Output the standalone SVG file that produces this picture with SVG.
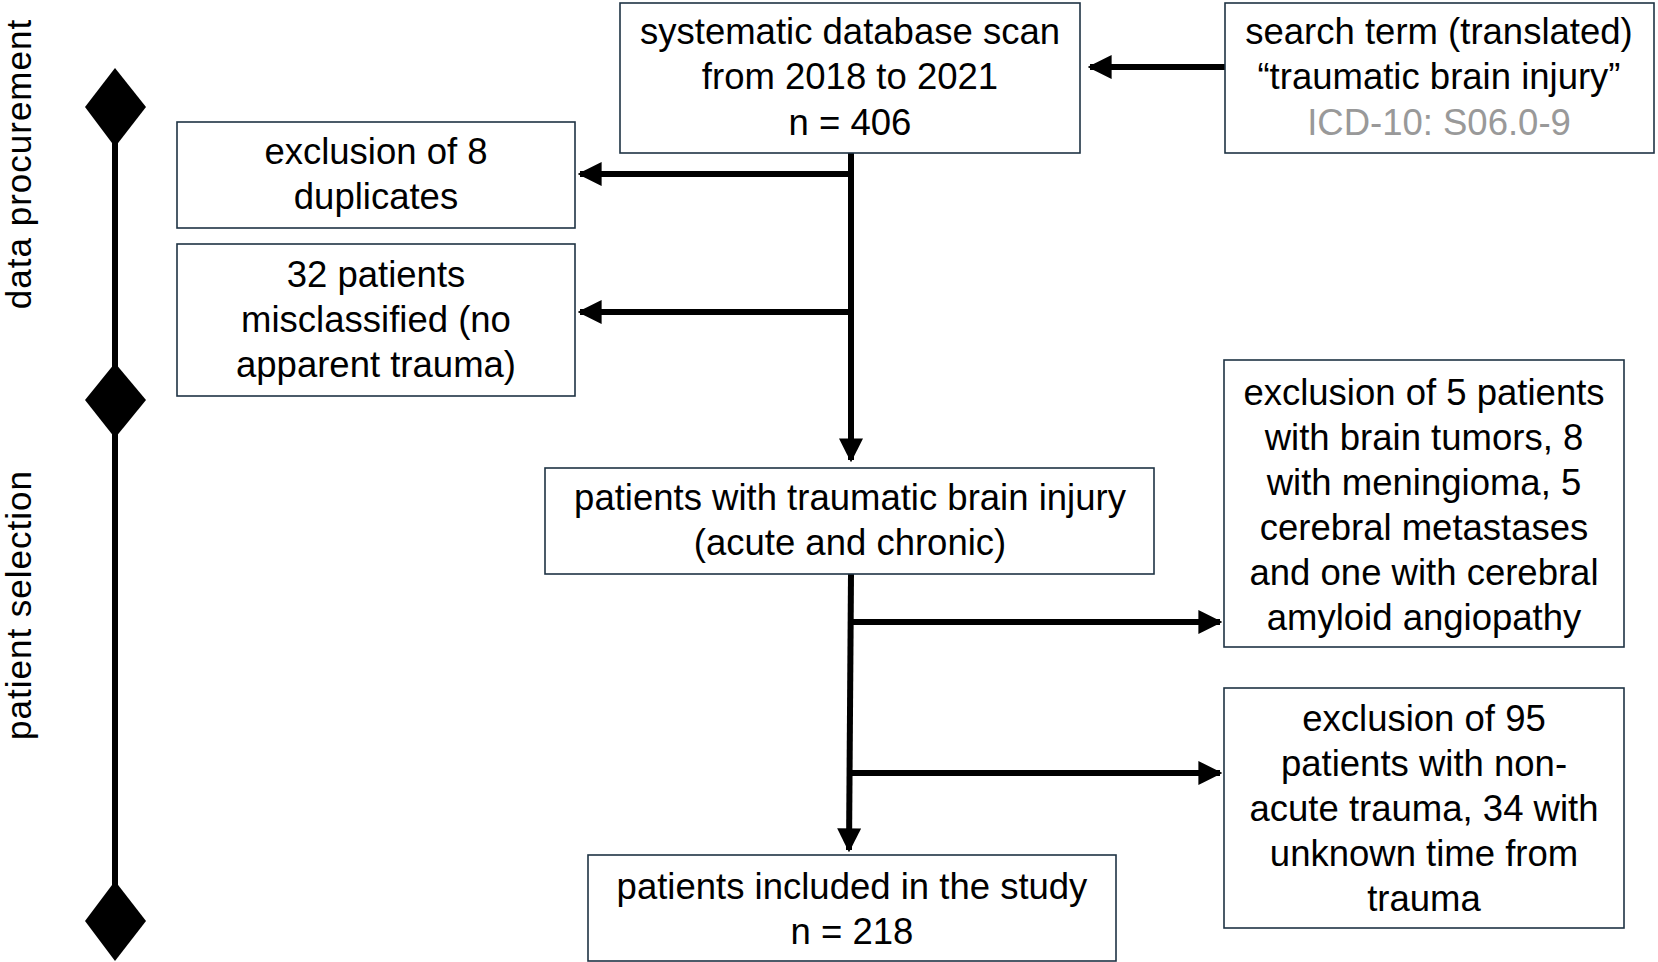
<svg xmlns="http://www.w3.org/2000/svg" width="1658" height="962" viewBox="0 0 1658 962">
<style>
.box{fill:#fff;stroke:#1f3344;stroke-width:1.6}
text{font-family:"Liberation Sans",Arial,sans-serif;font-size:36.5px;fill:#000;text-anchor:middle}
.side{font-size:35px;letter-spacing:1px}
.c{stroke:#000;stroke-width:6;fill:none}
</style>
<defs>
<marker id="ah" viewBox="0 0 10 10" refX="9" refY="5" markerWidth="4" markerHeight="4" orient="auto" markerUnits="strokeWidth"><path d="M0,0 L10,5 L0,10 z" fill="#000"/></marker>
</defs>
<g id="timeline">
<line x1="115" y1="100" x2="115" y2="920" stroke="#000" stroke-width="6"/>
<polygon points="115,68 146,107 115,147 85,107" fill="#000"/>
<polygon points="115,363 146,400 115,438 85,400" fill="#000"/>
<polygon points="115,881 146,921 115,961 85,921" fill="#000"/>
<text class="side" transform="translate(31,164) rotate(-90)">data procurement</text>
<text class="side" transform="translate(31,605) rotate(-90)">patient selection</text>
</g>
<g id="connectors">
<line class="c" x1="1225" y1="67" x2="1090" y2="67" marker-end="url(#ah)"/>
<line class="c" x1="851" y1="153" x2="851" y2="460" marker-end="url(#ah)"/>
<line class="c" x1="851" y1="174" x2="580" y2="174" marker-end="url(#ah)"/>
<line class="c" x1="851" y1="312" x2="580" y2="312" marker-end="url(#ah)"/>
<line class="c" x1="851" y1="574" x2="849" y2="850" marker-end="url(#ah)"/>
<line class="c" x1="851" y1="622" x2="1220" y2="622" marker-end="url(#ah)"/>
<line class="c" x1="851" y1="773" x2="1220" y2="773" marker-end="url(#ah)"/>
</g>
<g id="scan"><rect class="box" x="620" y="3" width="460" height="150"/>
<text x="850" y="44">systematic database scan</text><text x="850" y="89">from 2018 to 2021</text><text x="850" y="135">n = 406</text></g>
<g id="search"><rect class="box" x="1225" y="3" width="429" height="150"/>
<text x="1439" y="44">search term (translated)</text><text x="1439" y="89">“traumatic brain injury”</text><text x="1439" y="135" style="fill:#999">ICD-10: S06.0-9</text></g>
<g id="dup"><rect class="box" x="177" y="122" width="398" height="106"/>
<text x="376" y="164">exclusion of 8</text><text x="376" y="209">duplicates</text></g>
<g id="miscl"><rect class="box" x="177" y="244" width="398" height="152"/>
<text x="376" y="287">32 patients</text><text x="376" y="332">misclassified (no</text><text x="376" y="377">apparent trauma)</text></g>
<g id="tbi"><rect class="box" x="545" y="468" width="609" height="106"/>
<text x="850" y="510">patients with traumatic brain injury</text><text x="850" y="555">(acute and chronic)</text></g>
<g id="excl5"><rect class="box" x="1224" y="360" width="400" height="287"/>
<text x="1424" y="405">exclusion of 5 patients</text><text x="1424" y="450">with brain tumors, 8</text><text x="1424" y="495">with meningioma, 5</text><text x="1424" y="540">cerebral metastases</text><text x="1424" y="585">and one with cerebral</text><text x="1424" y="630">amyloid angiopathy</text></g>
<g id="excl95"><rect class="box" x="1224" y="688" width="400" height="240"/>
<text x="1424" y="731">exclusion of 95</text><text x="1424" y="776">patients with non-</text><text x="1424" y="821">acute trauma, 34 with</text><text x="1424" y="866">unknown time from</text><text x="1424" y="911">trauma</text></g>
<g id="included"><rect class="box" x="588" y="855" width="528" height="106"/>
<text x="852" y="899">patients included in the study</text><text x="852" y="944">n = 218</text></g>
</svg>
